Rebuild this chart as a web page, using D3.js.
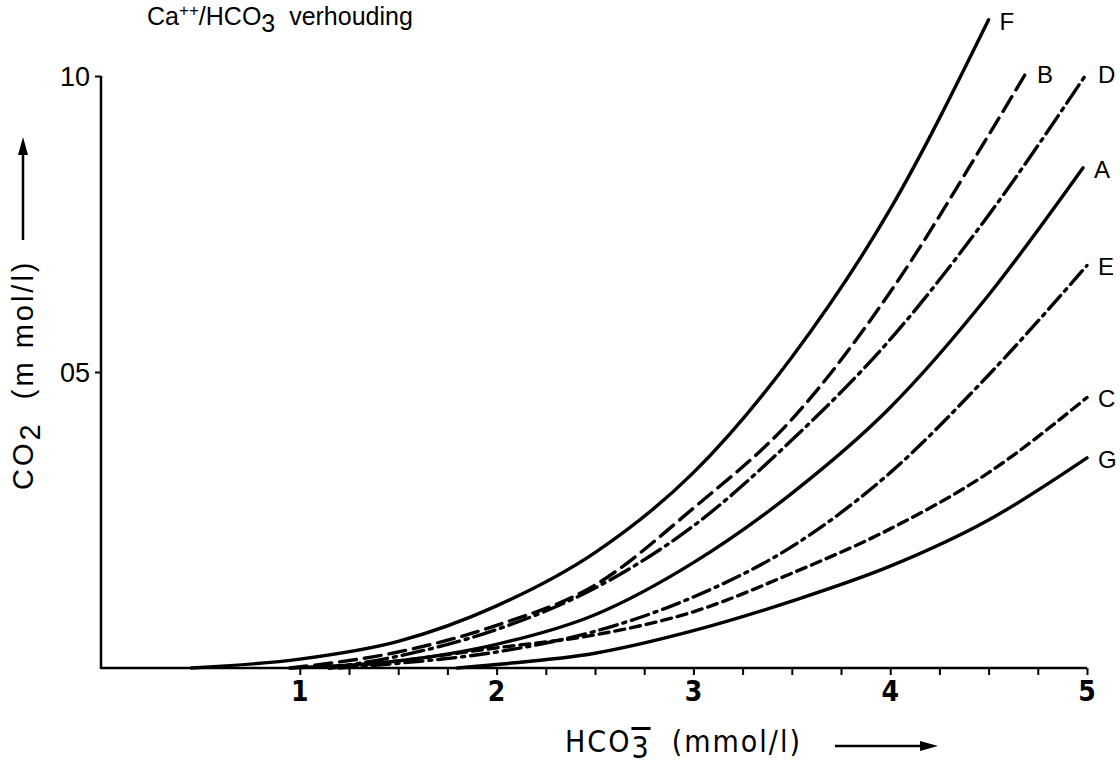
<!DOCTYPE html>
<html><head><meta charset="utf-8">
<script src="https://cdn.jsdelivr.net/npm/d3@7"></script>
<style>
html,body{margin:0;padding:0;background:#fff;}
svg{display:block;}
</style>
</head><body>
<svg id="c" width="1120" height="765"></svg>
<script>
// ---- data ----
const seriesNames = ["F", "B", "D", "A", "E", "C", "G"];
const xF = [0.45, 1, 1.5, 2, 2.5, 3, 3.5, 4, 4.5];
const yF = [0, 0.015, 0.045, 0.105, 0.195, 0.33, 0.525, 0.775, 1.095];
const xB = [0.95, 1.5, 2, 2.5, 3, 3.5, 4, 4.5, 4.69];
const yB = [0, 0.027, 0.072, 0.14, 0.27, 0.42, 0.635, 0.9, 1.005];
const xD = [1.15, 1.5, 2, 2.5, 3, 3.5, 4, 4.5, 5];
const yD = [0, 0.02, 0.065, 0.135, 0.24, 0.385, 0.555, 0.765, 1.005];
const xA = [0.95, 1.5, 2, 2.5, 3, 3.5, 4, 4.5, 4.98];
const yA = [0, 0.012, 0.04, 0.09, 0.178, 0.295, 0.44, 0.63, 0.845];
const xE = [1.2, 1.5, 2, 2.5, 3, 3.5, 4, 4.5, 5];
const yE = [0, 0.008, 0.027, 0.062, 0.12, 0.205, 0.33, 0.495, 0.68];
const xC = [1.15, 1.5, 2, 2.5, 3, 3.5, 4, 4.5, 5];
const yC = [0, 0.012, 0.034, 0.056, 0.095, 0.16, 0.235, 0.33, 0.457];
const xG = [1.8, 2, 2.5, 3, 3.5, 4, 4.5, 5];
const yG = [0, 0.006, 0.025, 0.063, 0.113, 0.172, 0.25, 0.355];
const xTickValues = [1, 2, 3, 4, 5];
const xMinorTicks = d3.range(1, 5.001, 0.25);
const yTickValues = [0.5, 1.0];
const yTickLabels = ["05", "10"];

const seriesX = {F: xF, B: xB, D: xD, A: xA, E: xE, C: xC, G: xG};
const seriesY = {F: yF, B: yB, D: yD, A: yA, E: yE, C: yC, G: yG};
const dashes = {F: null, B: "17,8", D: "22,6,3,6", A: null, E: "18,6,3,6", C: "10,6", G: null};

// ---- layout ----
const svg = d3.select("#c");
const x = d3.scaleLinear().domain([0, 5]).range([103, 1087]);
const y = d3.scaleLinear().domain([0, 1]).range([668, 76]);
const fontReg = "'Liberation Sans', Arial, Helvetica, sans-serif";
const fontNarrow = "'Liberation Sans Narrow', 'DejaVu Sans Condensed', 'Liberation Sans', sans-serif";

// axes lines
svg.append("line").attr("x1", 101).attr("x2", x(5)).attr("y1", y(0)).attr("y2", y(0))
  .attr("stroke", "#000").attr("stroke-width", 2.5);
svg.append("line").attr("x1", 101).attr("x2", 101).attr("y1", y(0) + 1).attr("y2", y(1))
  .attr("stroke", "#000").attr("stroke-width", 2.5);

// x axis ticks
const xAxis = d3.axisBottom(x).tickValues(xMinorTicks).tickSize(7).tickFormat("");
const gx = svg.append("g").attr("transform", `translate(0,${y(0)})`).call(xAxis);
gx.select(".domain").remove();
gx.selectAll(".tick line").attr("stroke", "#000").attr("stroke-width", 2);
svg.append("g").selectAll("text").data(xTickValues).join("text")
  .attr("x", d => x(d)).attr("y", 701)
  .attr("text-anchor", "middle")
  .style("font-family", fontNarrow).style("font-size", "28px").style("font-weight", "bold")
  .text(d => d);

// y axis ticks
const yAxis = d3.axisLeft(y).tickValues(yTickValues).tickSize(6).tickFormat((d, i) => yTickLabels[i]);
const gy = svg.append("g").attr("transform", `translate(101,0)`).call(yAxis);
gy.select(".domain").remove();
gy.selectAll(".tick line").attr("stroke", "#000").attr("stroke-width", 2);
gy.selectAll(".tick text").attr("x", -11).attr("dy", "0.36em")
  .style("font-family", fontReg).style("font-size", "27px").attr("fill", "#000");

// curves
const line = d3.line().x(d => x(d[0])).y(d => y(d[1])).curve(d3.curveMonotoneX);
const gCurves = svg.append("g");
seriesNames.forEach(n => {
  const pts = seriesX[n].map((v, i) => [v, seriesY[n][i]]);
  gCurves.append("path").datum(pts).attr("d", line)
    .attr("fill", "none").attr("stroke", "#000").attr("stroke-width", 3.4)
    .attr("stroke-linecap", "round")
    .attr("stroke-dasharray", dashes[n]);
  const last = pts[pts.length - 1];
  gCurves.append("text")
    .attr("x", x(last[0]) + 11).attr("y", y(last[1]) + 10)
    .style("font-family", fontReg).style("font-size", "24px")
    .text(n);
});

// title
const t = svg.append("text").attr("x", 147).attr("y", 25)
  .style("font-family", fontReg).style("font-size", "25px");
t.append("tspan").text("Ca");
t.append("tspan").attr("dy", -9).style("font-size", "17px").text("++");
t.append("tspan").attr("dy", 9).text("/HCO");
t.append("tspan").attr("dy", 7).text("3");
t.append("tspan").attr("dy", -7).text("\u00a0\u00a0verhouding");

// x axis title (overbar on the subscript 3)
const xt = svg.append("text").attr("x", 565).attr("y", 752)
  .style("font-family", fontNarrow).style("font-size", "30px").style("letter-spacing", "2px");
xt.append("tspan").text("HCO");
xt.append("tspan").attr("dy", 6).style("text-decoration", "overline").text("3");
xt.append("tspan").attr("dy", -6).text("\u00a0\u00a0(mmol/l)");
svg.append("line").attr("x1", 835).attr("x2", 922).attr("y1", 746).attr("y2", 746)
  .attr("stroke", "#000").attr("stroke-width", 2.5);
svg.append("path").attr("d", "M920,741 L938,746 L920,751 Z").attr("fill", "#000");

// y axis title
const yt = svg.append("text").attr("transform", "translate(33,490) rotate(-90)")
  .style("font-family", fontReg).style("font-size", "29px").style("letter-spacing", "3px");
yt.append("tspan").text("CO");
yt.append("tspan").attr("dy", 7).text("2");
yt.append("tspan").attr("dy", -7).text("\u00a0\u00a0(m mol/l)");
svg.append("line").attr("x1", 23).attr("x2", 23).attr("y1", 240).attr("y2", 152)
  .attr("stroke", "#000").attr("stroke-width", 2.5);
svg.append("path").attr("d", "M18,155 L23,137 L28,155 Z").attr("fill", "#000");
</script>
</body></html>
